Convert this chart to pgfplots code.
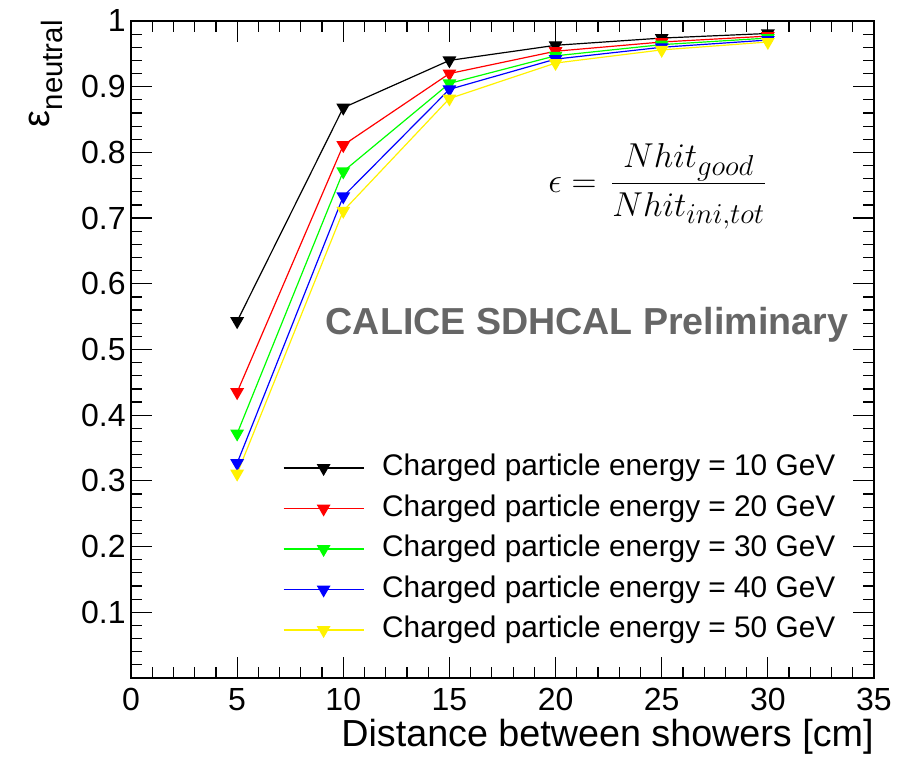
\documentclass[border=0pt]{standalone}
\usepackage[no-math]{fontspec}
\setmainfont{Liberation Sans}
\usepackage{pgfplots}
\pgfplotsset{compat=1.18}
\begin{document}
\begin{tikzpicture}
\begin{axis}[
  at={(0,0)}, anchor=south west,
  scale only axis, width=371.5pt, height=328.5pt,
  xmin=0, xmax=35, ymin=0, ymax=1,
  xtick={0,5,10,15,20,25,30,35},
  xticklabels={0,5,10,15,20,25,30,35},
  ytick={0,0.1,0.2,0.3,0.4,0.5,0.6,0.7,0.8,0.9,1},
  yticklabels={{},0.1,0.2,0.3,0.4,0.5,0.6,0.7,0.8,0.9,1},
  minor x tick num=4, minor y tick num=4,
  tick align=inside, tick pos=both,
  major tick length=10.5pt, minor tick length=5.5pt,
  tick style={black, line width=0.6pt},
  axis line style={line width=0.8pt},
  /pgf/number format/assume math mode=true,
  ticklabel style={font=\fontsize{16}{16}\selectfont, inner sep=0pt},
  xticklabel style={yshift=-5pt},
  yticklabel style={xshift=-2.5pt},
  legend cell align=left,
  legend image code/.code={\draw[#1, mark repeat=2, mark phase=2] plot coordinates {(0pt,0pt) (20pt,0pt) (40pt,0pt)};},
  legend style={at={(0.2046,0.3416)}, anchor=north west, draw=none, fill=none,
    inner sep=0pt, outer sep=0pt, row sep=5.75pt, column sep=9pt,
    font=\fontsize{14.9}{14.9}\selectfont,
    nodes={inner sep=0pt, text height=11pt, text depth=3.5pt}},
  every axis plot/.append style={line width=0.6pt, mark=triangle*, mark size=3.4pt, mark options={rotate=180, solid}},
]
\addplot[black] coordinates {(5,0.543) (10,0.868) (15,0.940) (20,0.963) (25,0.974) (30,0.981)};
\addlegendentry{Charged particle energy = 10 GeV}
\addplot[red] coordinates {(5,0.435) (10,0.811) (15,0.920) (20,0.954) (25,0.968) (30,0.977)};
\addlegendentry{Charged particle energy = 20 GeV}
\addplot[green] coordinates {(5,0.372) (10,0.771) (15,0.905) (20,0.947) (25,0.964) (30,0.974)};
\addlegendentry{Charged particle energy = 30 GeV}
\addplot[blue] coordinates {(5,0.327) (10,0.733) (15,0.896) (20,0.942) (25,0.960) (30,0.971)};
\addlegendentry{Charged particle energy = 40 GeV}
\addplot[yellow] coordinates {(5,0.311) (10,0.711) (15,0.882) (20,0.936) (25,0.956) (30,0.968)};
\addlegendentry{Charged particle energy = 50 GeV}
\end{axis}
\node[anchor=base east, font=\fontsize{18.85}{18.85}\selectfont, inner sep=0pt] at (371.5pt,-34.5pt) {Distance between showers [cm]};
\node[rotate=90, anchor=base east, inner sep=0pt] at (-40.5pt,329pt) {{\fontsize{19}{19}\selectfont ε}\raisebox{-6.5pt}{\fontsize{14.7}{14.7}\selectfont neutral}};
\node[anchor=base east, inner sep=0pt, font=\fontsize{19}{19}\selectfont] at (233pt,242.75pt) {$\epsilon =$};
\node[anchor=base west, inner sep=0pt, font=\fontsize{19}{19}\selectfont] at (239.3pt,242.75pt) {$\displaystyle \frac{Nhit_{good}}{Nhit_{ini,tot}}$};
\node[anchor=base, inner sep=0pt, font=\fontsize{18.8}{18.8}\selectfont\bfseries, text=black!60] at (228pt,171.5pt) {CALICE SDHCAL Preliminary};
\pgfresetboundingbox
\path (-65.5pt,-40.5pt) rectangle (395.5pt,339pt);
\end{tikzpicture}
\end{document}
